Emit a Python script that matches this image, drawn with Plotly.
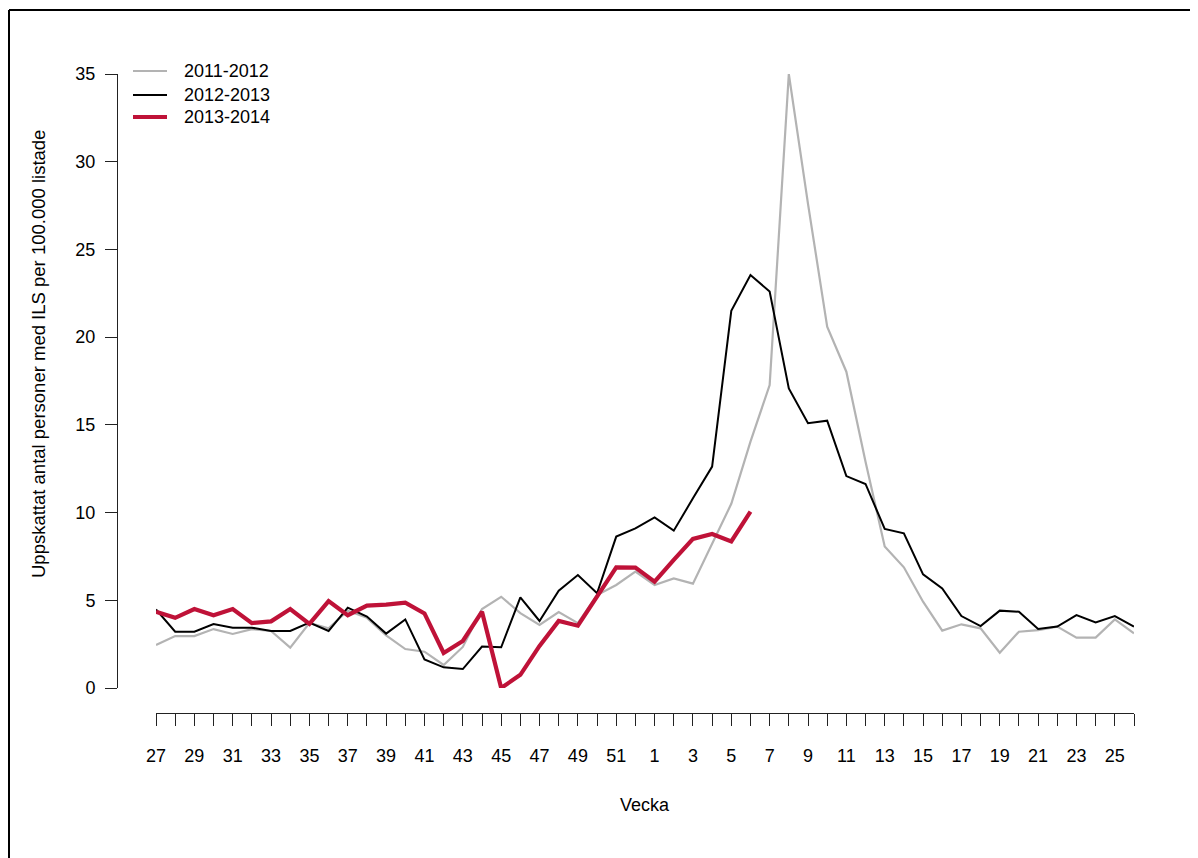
import plotly.graph_objects as go

W, H = 1198, 858
OFF = 8  # page body margin offset

weeks = [str(w) for w in range(27, 53)] + [str(w) for w in range(1, 27)]
tick_text = [w if i % 2 == 0 else "" for i, w in enumerate(weeks)]

series_names = ["2011-2012", "2012-2013", "2013-2014"]

s2011_2012 = [2.45, 2.96, 2.96, 3.36, 3.08, 3.36, 3.25, 2.3, 3.7, 3.4,
              4.4, 4.0, 3.0, 2.22, 2.07, 1.31, 2.34, 4.5, 5.2, 4.27,
              3.59, 4.33, 3.7, 5.3, 5.87, 6.63, 5.87, 6.25, 5.95, 8.26,
              10.5, 14.04, 17.27, 35.0, 27.6, 20.6, 18.03, 12.9, 8.07, 6.88,
              4.92, 3.27, 3.63, 3.4, 2.01, 3.21, 3.3, 3.5, 2.87, 2.87,
              3.91, 3.12]

s2012_2013 = [4.48, 3.21, 3.21, 3.65, 3.44, 3.44, 3.25, 3.25, 3.73, 3.25,
              4.58, 4.07, 3.1, 3.91, 1.63, 1.18, 1.08, 2.36, 2.32, 5.17,
              3.82, 5.55, 6.44, 5.4, 8.63, 9.1, 9.73, 8.97, 10.81, 12.62,
              21.5, 23.54, 22.6, 17.08, 15.09, 15.24, 12.08, 11.63, 9.07, 8.82,
              6.48, 5.68, 4.1, 3.53, 4.41, 4.35, 3.36, 3.5, 4.16, 3.74,
              4.1, 3.5]

s2013_2014 = [4.35, 4.0, 4.5, 4.15, 4.5, 3.7, 3.8, 4.5, 3.65, 4.95,
              4.15, 4.7, 4.75, 4.86, 4.25, 2.0, 2.68, 4.35, 0.0, 0.75,
              2.4, 3.82, 3.55, 5.25, 6.88, 6.86, 6.06, 7.3, 8.5, 8.78,
              8.36, 10.05]

y_ticks = [0, 5, 10, 15, 20, 25, 30, 35]

colors = ["#b3b3b3", "#000000", "#bf1238"]
widths = [2.2, 2.0, 4.2]

FONT = "Liberation Sans, Arial, sans-serif"

def px_x(p):
    return (p - OFF) / W

def px_y(p):
    return (H - (p - OFF)) / H

fig = go.Figure()
for name, vals, c, w in zip(series_names, [s2011_2012, s2012_2013, s2013_2014], colors, widths):
    fig.add_trace(go.Scatter(
        x=weeks[:len(vals)], y=vals, mode="lines", name=name,
        line=dict(color=c, width=w), showlegend=False,
    ))

shapes = [
    # outer frame (left and top visible)
    dict(type="line", xref="paper", yref="paper", x0=px_x(9), x1=px_x(9), y0=px_y(10), y1=px_y(870),
         line=dict(color="black", width=2)),
    dict(type="line", xref="paper", yref="paper", x0=px_x(9), x1=px_x(1210), y0=px_y(10), y1=px_y(10),
         line=dict(color="black", width=2)),
]
annotations = []
legend_rows = [71, 95, 117]
for name, c, w, yr in zip(series_names, colors, widths, legend_rows):
    shapes.append(dict(type="line", xref="paper", yref="paper", x0=px_x(133), x1=px_x(167),
                       y0=px_y(yr), y1=px_y(yr), line=dict(color=c, width=w)))
    annotations.append(dict(text=name, xref="paper", yref="paper", x=px_x(182), y=px_y(yr),
                            xanchor="left", yanchor="middle", showarrow=False,
                            font=dict(size=18, color="black", family=FONT)))

annotations.append(dict(text="Vecka", xref="paper", yref="paper", x=px_x(645), y=px_y(805),
                        xanchor="center", yanchor="middle", showarrow=False,
                        font=dict(size=18, color="black", family=FONT)))
annotations.append(dict(text="Uppskattat antal personer med ILS per 100.000 listade",
                        xref="paper", yref="paper", x=px_x(38), y=px_y(354), textangle=-90,
                        xanchor="center", yanchor="middle", showarrow=False,
                        font=dict(size=18.5, color="black", family=FONT)))

fig.update_layout(
    template="none",
    width=W, height=H, autosize=False,
    margin=dict(l=0, r=0, t=0, b=0, pad=0, autoexpand=False),
    paper_bgcolor="white", plot_bgcolor="white",
    font=dict(family=FONT, size=18, color="black"),
    shapes=shapes, annotations=annotations,
    xaxis=dict(
        type="category", categoryorder="array", categoryarray=weeks,
        range=[0, 51], domain=[px_x(156), px_x(1134)],
        anchor="free", position=px_y(713), automargin=False,
        showline=True, linecolor="#222222", linewidth=1,
        ticks="outside", ticklen=12, tickwidth=1, tickcolor="#222222",
        tickvals=weeks, ticktext=tick_text, tickangle=0,
        tickfont=dict(size=18, family=FONT, color="black"),
        ticklabelstandoff=14,
        showgrid=False, zeroline=False,
    ),
    yaxis=dict(
        range=[0, 35], domain=[px_y(688), px_y(74)],
        anchor="free", position=px_x(117), automargin=False,
        showline=True, linecolor="#222222", linewidth=1,
        ticks="outside", ticklen=12, tickwidth=1, tickcolor="#222222",
        tickvals=y_ticks, ticktext=[str(v) for v in y_ticks],
        tickfont=dict(size=18, family=FONT, color="black"),
        ticklabelstandoff=6,
        showgrid=False, zeroline=False,
    ),
)

fig.write_html("out.html")
